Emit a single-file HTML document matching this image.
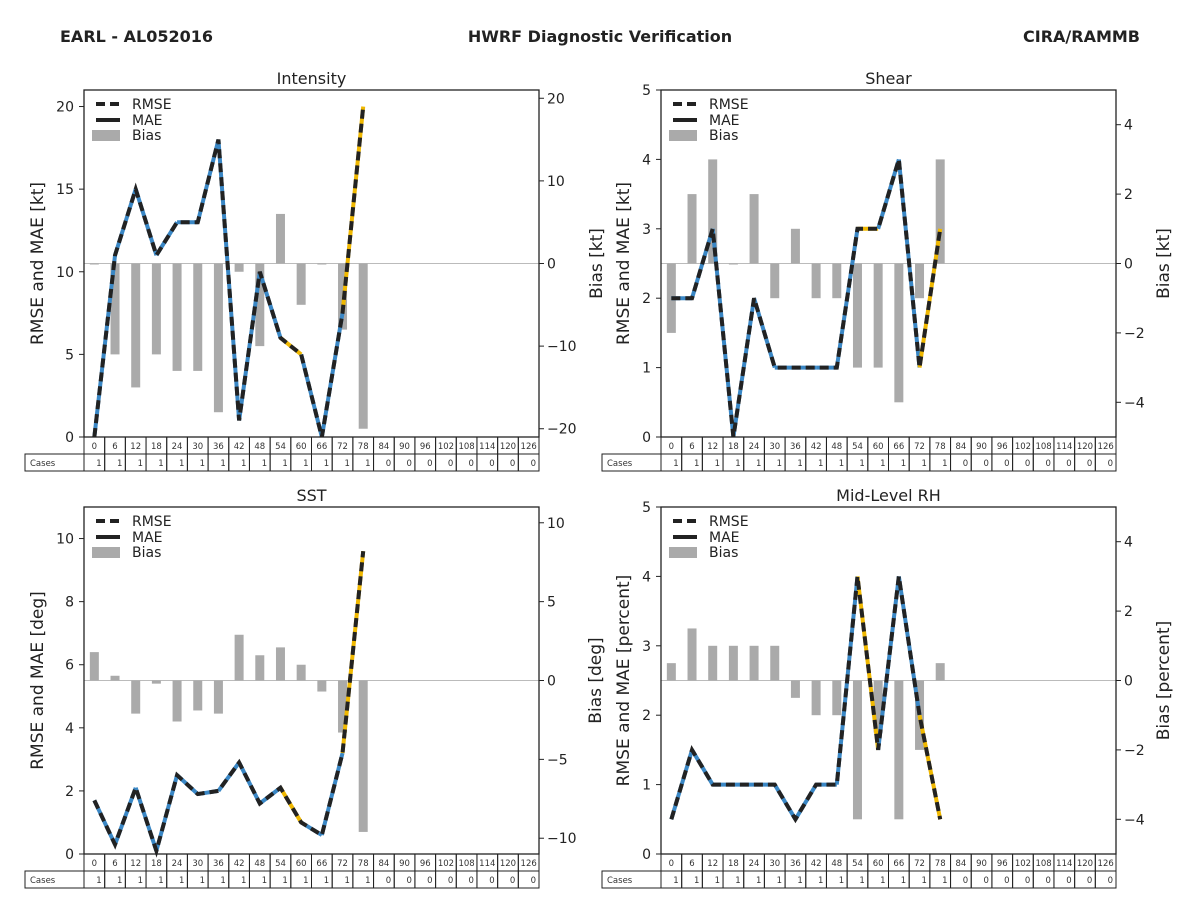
<!DOCTYPE html>
<html><head><meta charset="utf-8">
<style>
body{margin:0;background:#fff;}
svg{display:block;font-family:"DejaVu Sans","Liberation Sans",sans-serif;}
</style></head>
<body>
<svg id="fig" width="1200" height="900" viewBox="0 0 1200 900">
<text x="60" y="42" font-size="16" font-weight="bold" fill="#222">EARL - AL052016</text>
<text x="600" y="42" font-size="16" font-weight="bold" fill="#222" text-anchor="middle">HWRF Diagnostic Verification</text>
<text x="1140" y="42" font-size="16" font-weight="bold" fill="#222" text-anchor="end">CIRA/RAMMB</text>
</svg>
<script>
const hours = ['0','6','12','18','24','30','36','42','48','54','60','66','72','78','84','90','96','102','108','114','120','126'];
const cases = [1,1,1,1,1,1,1,1,1,1,1,1,1,1,0,0,0,0,0,0,0,0];
const intensityErr = [0,11,15,11,13,13,18,1,10,6,5,0,7.5,20];
const intensityBias = [0,-11,-15,-11,-13,-13,-18,-1,-10,6,-5,0,-8,-20];
const intensitySeg = ['b','b','b','b','b','b','b','b','b','y','b','b','y'];
const shearErr = [2,2,3,0,2,1,1,1,1,3,3,4,1,3];
const shearBias = [-2,2,3,0,2,-1,1,-1,-1,-3,-3,-4,-1,3];
const shearSeg = ['b','b','b','b','b','b','b','b','b','y','b','b','y'];
const sstErr = [1.7,0.3,2.1,0.1,2.5,1.9,2.0,2.9,1.6,2.1,1.0,0.6,3.2,9.6];
const sstBias = [1.8,0.3,-2.1,-0.2,-2.6,-1.9,-2.1,2.9,1.6,2.1,1.0,-0.7,-3.3,-9.6];
const sstSeg = ['b','b','b','b','b','b','b','b','b','y','b','b','y'];
const rhErr = [0.5,1.5,1,1,1,1,0.5,1,1,4,1.5,4,2,0.5];
const rhBias = [0.5,1.5,1,1,1,1,-0.5,-1,-1,-4,-1.5,-4,-2,0.5];
const rhSeg = ['b','b','b','b','b','b','b','b','b','y','b','b','y'];
const intensityLeftTicks = [0,5,10,15,20];
const intensityRightTicks = [20,10,0,-10,-20];
const shearLeftTicks = [0,1,2,3,4,5];
const shearRightTicks = [4,2,0,-2,-4];
const sstLeftTicks = [0,2,4,6,8,10];
const sstRightTicks = [10,5,0,-5,-10];
const rhLeftTicks = [0,1,2,3,4,5];
const rhRightTicks = [4,2,0,-2,-4];

const NS='http://www.w3.org/2000/svg';
const svg=document.getElementById('fig');
function mk(tag,attrs,parent,name){
  const e=document.createElementNS(NS,tag);
  for(const k in attrs) e.setAttribute(k,attrs[k]);
  
  
  (parent||svg).appendChild(e);return e;
}
function fmt(v){return v<0?'\u2212'+Math.abs(v):String(v);}

function panel(p){
  const g=mk('g',{},svg,p.id+'-panel');
  const L=p.x,R=p.x+455,T=p.y,B=p.y+347;
  const n=hours.length,cw=(R-L)/n;
  const xs=i=>L+cw*(i+0.5);
  const yl=v=>B-(v/p.lmax)*(B-T);
  const yr=v=>(T+B)/2-(v/p.rmax)*((B-T)/2);
  mk('text',{x:(L+R)/2,y:T-6,'font-size':16,fill:'#222','text-anchor':'middle'},g,p.id+'-title').textContent=p.title;
  // zero line
  mk('line',{x1:L,x2:R,y1:yr(0),y2:yr(0),stroke:'#bbb','stroke-width':1},g,'zero-line');
  // bars
  p.bias.forEach((v,i)=>{
    const y0=yr(0),y1=yr(v);
    mk('rect',{x:xs(i)-4.5,y:Math.min(y0,y1),width:9,height:Math.max(Math.abs(y1-y0),1),fill:'#aaa'},g,'bias-bar');
  });
  // lines
  for(let i=0;i<p.err.length-1;i++){
    mk('line',{x1:xs(i),y1:yl(p.err[i]),x2:xs(i+1),y2:yl(p.err[i+1]),stroke:p.seg[i]==='y'?'#f0b800':'#3a87c5','stroke-width':4,'stroke-linecap':'butt'},g,'mae-line-segment');
  }
  const pts=p.err.map((v,i)=>xs(i)+','+yl(v)).join(' ');
  mk('polyline',{points:pts,fill:'none',stroke:'#222','stroke-width':4,'stroke-dasharray':'9 5'},g,'rmse-line');
  // frame
  mk('rect',{x:L,y:T,width:R-L,height:B-T,fill:'none',stroke:'#222','stroke-width':1.3},g,'plot-frame');
  // ticks
  p.lt.forEach(v=>{
    mk('line',{x1:L-5,x2:L,y1:yl(v),y2:yl(v),stroke:'#222'},g,'left-tick');
    mk('text',{x:L-10,y:yl(v)+5,'font-size':14,fill:'#222','text-anchor':'end'},g,'left-tick-label').textContent=fmt(v);
  });
  p.rt.forEach(v=>{
    mk('line',{x1:R,x2:R+5,y1:yr(v),y2:yr(v),stroke:'#222'},g,'right-tick');
    mk('text',{x:R+8,y:yr(v)+5,'font-size':14,fill:'#222'},g,'right-tick-label').textContent=fmt(v);
  });
  const ly=(T+B)/2;
  mk('text',{x:p.llx,y:ly,'font-size':17,fill:'#222','text-anchor':'middle',transform:`rotate(-90 ${p.llx} ${ly})`},g,'left-axis-title').textContent=p.ll;
  mk('text',{x:p.rlx,y:ly,'font-size':17,fill:'#222','text-anchor':'middle',transform:`rotate(-90 ${p.rlx} ${ly})`},g,'right-axis-title').textContent=p.rl;
  // legend
  const lg=mk('g',{},g,'legend');
  mk('line',{x1:L+12,x2:L+36,y1:T+14,y2:T+14,stroke:'#222','stroke-width':4,'stroke-dasharray':'9 5'},lg,'legend-rmse-swatch');
  mk('text',{x:L+48,y:T+19,'font-size':14,fill:'#222'},lg,'legend-rmse').textContent='RMSE';
  mk('line',{x1:L+12,x2:L+36,y1:T+30,y2:T+30,stroke:'#222','stroke-width':4},lg,'legend-mae-swatch');
  mk('text',{x:L+48,y:T+35,'font-size':14,fill:'#222'},lg,'legend-mae').textContent='MAE';
  mk('rect',{x:L+8,y:T+40,width:28,height:11,fill:'#aaa'},lg,'legend-bias-swatch');
  mk('text',{x:L+48,y:T+50,'font-size':14,fill:'#222'},lg,'legend-bias').textContent='Bias';
  // table
  const tg=mk('g',{},g,'cases-table');
  hours.forEach((h,i)=>{
    mk('rect',{x:L+cw*i,y:B,width:cw,height:17,fill:'none',stroke:'#222','stroke-width':1},tg,'hour-cell');
    mk('text',{x:xs(i),y:B+12,'font-size':8.5,fill:'#333','text-anchor':'middle'},tg,'hour-label').textContent=h;
    mk('rect',{x:L+cw*i,y:B+17,width:cw,height:17,fill:'none',stroke:'#222','stroke-width':1},tg,'case-cell');
    mk('text',{x:L+cw*(i+1)-3,y:B+29,'font-size':8.5,fill:'#333','text-anchor':'end'},tg,'case-count').textContent=cases[i];
  });
  mk('rect',{x:L-59,y:B+17,width:59,height:17,fill:'none',stroke:'#222','stroke-width':1},tg,'cases-header-cell');
  mk('text',{x:L-54,y:B+29,'font-size':8.5,fill:'#333'},tg,'cases-header').textContent='Cases';
}
panel({id:'intensity',title:'Intensity',x:84,y:90,lmax:21,rmax:21,err:intensityErr,bias:intensityBias,seg:intensitySeg,lt:intensityLeftTicks,rt:intensityRightTicks,ll:'RMSE and MAE [kt]',rl:'Bias [kt]',llx:43,rlx:602});
panel({id:'shear',title:'Shear',x:661,y:90,lmax:5,rmax:5,err:shearErr,bias:shearBias,seg:shearSeg,lt:shearLeftTicks,rt:shearRightTicks,ll:'RMSE and MAE [kt]',rl:'Bias [kt]',llx:629,rlx:1169});
panel({id:'sst',title:'SST',x:84,y:507,lmax:11,rmax:11,err:sstErr,bias:sstBias,seg:sstSeg,lt:sstLeftTicks,rt:sstRightTicks,ll:'RMSE and MAE [deg]',rl:'Bias [deg]',llx:43,rlx:601});
panel({id:'rh',title:'Mid-Level RH',x:661,y:507,lmax:5,rmax:5,err:rhErr,bias:rhBias,seg:rhSeg,lt:rhLeftTicks,rt:rhRightTicks,ll:'RMSE and MAE [percent]',rl:'Bias [percent]',llx:629,rlx:1169});
</script>
</body></html>
